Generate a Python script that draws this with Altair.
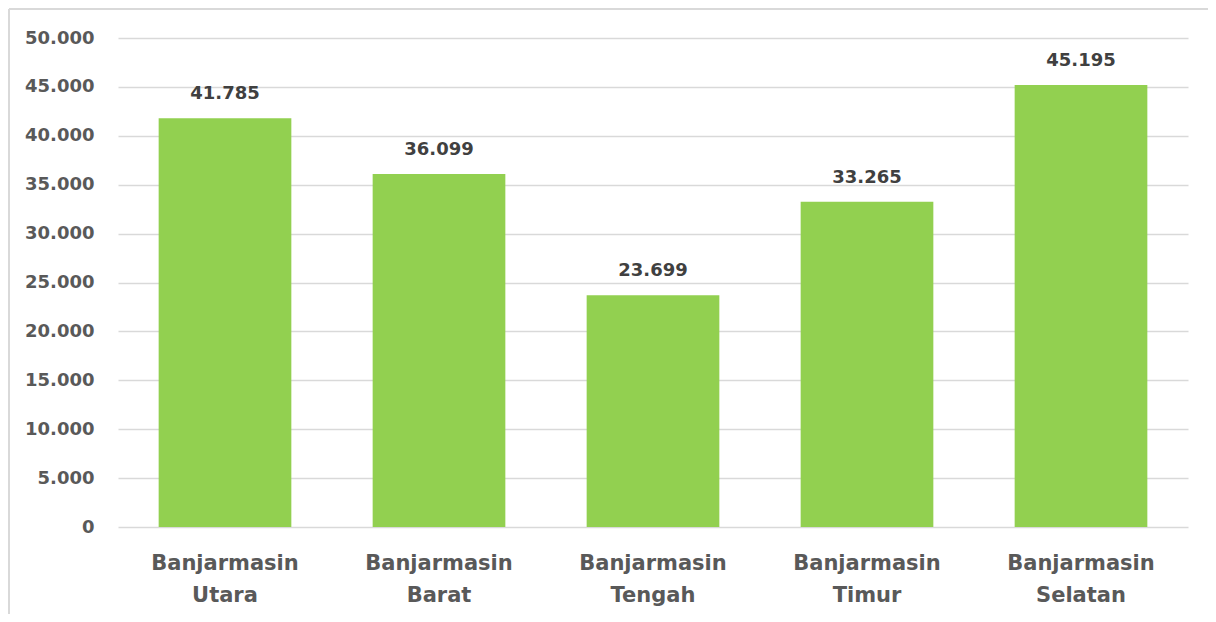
import altair as alt
import pandas as pd

kecamatan = ["Banjarmasin Utara", "Banjarmasin Barat", "Banjarmasin Tengah",
             "Banjarmasin Timur", "Banjarmasin Selatan"]
nilai = [41785, 36099, 23699, 33265, 45195]

df = pd.DataFrame({"kec": kecamatan, "val": nilai})

W, H = 1070, 489
FONT = "DejaVu Sans"

x = alt.X("kec:N", sort=kecamatan, title=None,
          scale=alt.Scale(paddingInner=0.38, paddingOuter=0.19),
          axis=alt.Axis(labelAngle=0, labelExpr="split(datum.label, ' ')",
                        labelFont=FONT, labelFontSize=21, labelFontWeight="bold",
                        labelColor="#595959", labelLineHeight=32, labelPadding=25,
                        ticks=False, domain=False, grid=False))
y = alt.Y("val:Q", title=None,
          scale=alt.Scale(domain=[0, 50000], nice=False),
          axis=alt.Axis(values=list(range(0, 50001, 5000)),
                        labelExpr="replace(format(datum.value, ','), ',', '.')",
                        labelFont=FONT, labelFontSize=18, labelFontWeight="bold",
                        labelColor="#595959", labelPadding=24, ticks=False,
                        domain=False, gridColor="#d9d9d9", gridWidth=1.5))

bars = alt.Chart(df).mark_bar(color="#92D050").encode(x=x, y=y)

labels = alt.Chart(df).transform_calculate(
    lab="replace(format(datum.val, ','), ',', '.')"
).mark_text(dy=-19, baseline="alphabetic", font=FONT, fontSize=18,
            fontWeight="bold", color="#404040").encode(
    x=alt.X("kec:N", sort=kecamatan), y="val:Q", text="lab:N")

frame_left = alt.Chart(df).mark_rule(color="#d9d9d9", strokeWidth=2).encode(
    x=alt.value(-109), y=alt.value(-29), y2=alt.value(H + 120))
frame_top = alt.Chart(df).mark_rule(color="#d9d9d9", strokeWidth=2).encode(
    x=alt.value(-109), x2=alt.value(W + 20), y=alt.value(-29))

chart = alt.layer(bars, labels, frame_left, frame_top).properties(
    width=W, height=H,
    background="white",
    autosize=alt.AutoSizeParams(type="none"),
    padding={"left": 110, "top": 30, "right": 20, "bottom": 87},
).configure_view(strokeWidth=0)

chart.save("out.html", embed_options={"renderer": "svg", "actions": False})
